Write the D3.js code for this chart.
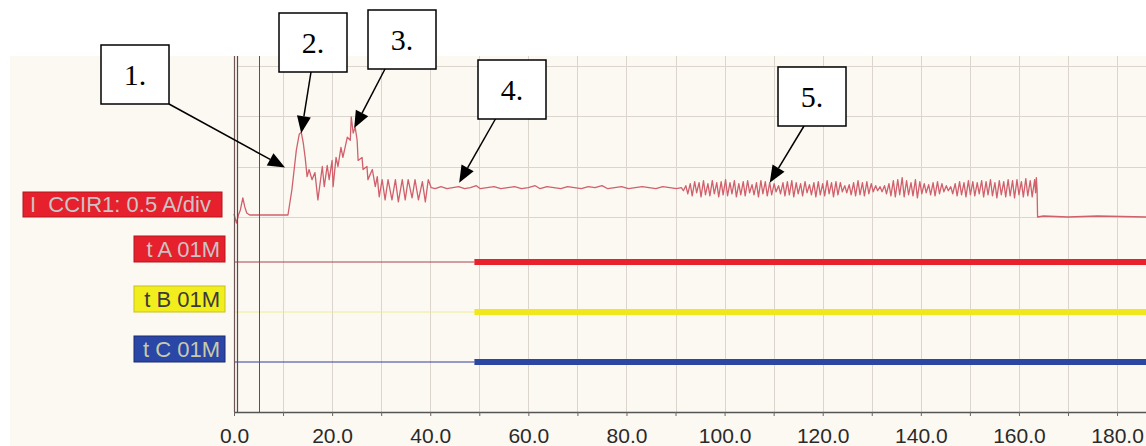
<!DOCTYPE html>
<html>
<head>
<meta charset="utf-8">
<script src="https://cdn.jsdelivr.net/npm/d3@7"></script>
<style>
html, body { margin: 0; padding: 0; background: #ffffff; }
svg { display: block; }
</style>
</head>
<body>
<div id="chart"></div>
<script>
// time axis (cycles) and amplitude grid (A)
var timeTicks = [0, 10, 20, 30, 40, 50, 60, 70, 80, 90, 100, 110, 120, 130, 140, 150, 160, 170, 180];
var ampGrid = [0, 0.5, 1.0, 1.5];
var tEnd = 185.9;
var cursorTime = 5.0;

var analogLabel = "I  CCIR1: 0.5 A/div";

// recorded current, [time, A]
var inrush = [
    [0.0, 0.03], [0.5, -0.06], [0.9, 0.02], [1.3, 0.07], [1.8, 0.19], [2.2, 0.10], [2.6, 0.04], [3.2, 0.02],
    [6.0, 0.02], [9.0, 0.02], [11.0, 0.02],
    [11.8, 0.27], [12.7, 0.66], [13.3, 0.82], [13.7, 0.84], [14.1, 0.74], [14.5, 0.59], [14.9, 0.40],
    [15.3, 0.47], [15.9, 0.37], [16.5, 0.44], [17.1, 0.17], [18.0, 0.50], [18.4, 0.30], [19.0, 0.51],
    [19.4, 0.37], [20.0, 0.56], [20.2, 0.30], [20.8, 0.59], [21.2, 0.50], [21.8, 0.69], [22.2, 0.59],
    [23.1, 0.79], [23.7, 0.76], [23.9, 0.99], [24.3, 0.83], [24.7, 0.89], [25.1, 0.76], [25.3, 0.56],
    [26.1, 0.59], [26.3, 0.47], [27.1, 0.50], [27.3, 0.37], [28.2, 0.47], [28.8, 0.30], [29.2, 0.40],
    [29.6, 0.20], [30.2, 0.37], [30.8, 0.17], [31.4, 0.37], [32.2, 0.17], [32.9, 0.37], [33.5, 0.15],
    [34.3, 0.37], [34.9, 0.17], [35.5, 0.37], [36.3, 0.19], [36.9, 0.37], [37.6, 0.17], [38.4, 0.35],
    [39.0, 0.15], [39.6, 0.37], [40.2, 0.29]
];
var steady = [
    [41.0, 0.28], [42.2, 0.30], [43.4, 0.28], [44.6, 0.29], [45.8, 0.30], [47.0, 0.28], [48.2, 0.29],
    [49.4, 0.31], [50.2, 0.28], [51.6, 0.29], [53.0, 0.30], [54.4, 0.28], [55.8, 0.29], [57.2, 0.30],
    [58.6, 0.28], [60.0, 0.29], [61.4, 0.31], [62.4, 0.28], [63.8, 0.30], [65.2, 0.29], [66.6, 0.28],
    [68.0, 0.30], [69.4, 0.29], [70.8, 0.28], [72.2, 0.30], [73.6, 0.29], [75.0, 0.31], [76.2, 0.28],
    [77.6, 0.29], [79.0, 0.30], [80.4, 0.28], [81.8, 0.29], [83.2, 0.30], [84.6, 0.29], [86.0, 0.28],
    [87.4, 0.30], [88.8, 0.29], [90.2, 0.28], [91.2, 0.29]
];
var oscillation = [
    [91.6, 0.26], [92.1, 0.31], [92.5, 0.23], [93.0, 0.33], [93.4, 0.21], [93.9, 0.35], [94.3, 0.24], [94.8, 0.34],
    [95.2, 0.20], [95.7, 0.36], [96.1, 0.22], [96.6, 0.33], [97.0, 0.21], [97.5, 0.36], [97.9, 0.23], [98.4, 0.34],
    [98.8, 0.20], [99.3, 0.35], [99.7, 0.22], [100.2, 0.37], [100.6, 0.21], [101.1, 0.34], [101.5, 0.23], [102.0, 0.36],
    [102.4, 0.20], [102.9, 0.33], [103.3, 0.22], [103.8, 0.35], [104.2, 0.21], [104.7, 0.36], [105.1, 0.24], [105.6, 0.32],
    [106.0, 0.22], [106.5, 0.34], [106.9, 0.20], [107.4, 0.36], [107.8, 0.23], [108.3, 0.35], [108.7, 0.21], [109.2, 0.34],
    [109.6, 0.22], [110.1, 0.33], [110.5, 0.25], [111.0, 0.31], [111.4, 0.23], [111.9, 0.34], [112.3, 0.21], [112.8, 0.35],
    [113.2, 0.22], [113.7, 0.36], [114.1, 0.20], [114.6, 0.34], [115.0, 0.23], [115.5, 0.33], [115.9, 0.21], [116.4, 0.35],
    [116.8, 0.24], [117.3, 0.32], [117.7, 0.22], [118.2, 0.34], [118.6, 0.20], [119.1, 0.35], [119.5, 0.22], [120.0, 0.33],
    [120.4, 0.21], [120.9, 0.36], [121.3, 0.23], [121.8, 0.34], [122.2, 0.20], [122.7, 0.35], [123.1, 0.22], [123.6, 0.34],
    [124.0, 0.25], [124.5, 0.31], [124.9, 0.24], [125.4, 0.32], [125.8, 0.22], [126.3, 0.34], [126.7, 0.21], [127.2, 0.36],
    [127.6, 0.22], [128.1, 0.34], [128.5, 0.21], [129.0, 0.35], [129.4, 0.23], [129.9, 0.33], [130.3, 0.25], [130.8, 0.31],
    [131.2, 0.26], [131.7, 0.30], [132.1, 0.25], [132.6, 0.31], [133.0, 0.23], [133.5, 0.33], [133.9, 0.21], [134.4, 0.36],
    [134.8, 0.20], [135.3, 0.37], [135.7, 0.22], [136.2, 0.39], [136.6, 0.20], [137.1, 0.36], [137.5, 0.22], [138.0, 0.34],
    [138.4, 0.21], [138.9, 0.37], [139.3, 0.19], [139.8, 0.35], [140.2, 0.23], [140.7, 0.33], [141.1, 0.24], [141.6, 0.32],
    [142.0, 0.22], [142.5, 0.34], [142.9, 0.21], [143.4, 0.35], [143.8, 0.23], [144.3, 0.33], [144.7, 0.25], [145.2, 0.31],
    [145.6, 0.26], [146.1, 0.30], [146.5, 0.23], [147.0, 0.33], [147.4, 0.21], [147.9, 0.35], [148.3, 0.22], [148.8, 0.34],
    [149.2, 0.20], [149.7, 0.36], [150.1, 0.22], [150.6, 0.35], [151.0, 0.21], [151.5, 0.34], [151.9, 0.23], [152.4, 0.36],
    [152.8, 0.20], [153.3, 0.35], [153.7, 0.22], [154.2, 0.37], [154.6, 0.21], [155.1, 0.34], [155.5, 0.19], [156.0, 0.36],
    [156.4, 0.22], [156.9, 0.35], [157.3, 0.20], [157.8, 0.37], [158.2, 0.21], [158.7, 0.36], [159.1, 0.19], [159.6, 0.37],
    [160.0, 0.22], [160.5, 0.35], [160.9, 0.20], [161.4, 0.38], [161.8, 0.21], [162.3, 0.36], [162.7, 0.20], [163.2, 0.37],
    [163.4, 0.24], [163.55, 0.39], [163.7, 0.27]
];
var afterTrip = [[163.8, 0.00], [165.0, 0.01], [170.0, 0.00], [176.0, 0.01], [185.9, 0.00]];

// binary trip signals
var digitalChannels = ["t A 01M", "t B 01M", "t C 01M"];
var digitalPickup = [49.0, 49.0, 49.0];

// numbered call-outs and the point each one points at
var annotationLabels = ["1.", "2.", "3.", "4.", "5."];
var annotationTargets = [[10.4, 0.49], [13.7, 0.83], [24.5, 0.88], [45.9, 0.34], [109.2, 0.34]];

// ---- layout / styles ----
var width = 1146, height = 446;
var plotTop = 56, axisY = 412;
var boxPos = [[101, 45], [279, 13], [368, 10], [478, 60], [778, 67]];
var boxAnchor = [[68, 59], [32, 59], [17, 59], [18, 58], [26, 59]];
var boxW = 68, boxH = 59;

var chanFill = ["#e6202c", "#f2ee1e", "#2a46a6"];
var chanStroke = ["#b01820", "#c8c020", "#1a2a70"];
var chanText = ["#cbc4c4", "#3a3a3a", "#cacaa8"];
var chanThin = ["#a84050", "#eeee90", "#303c98"];
var chanThick = ["#e8222c", "#f0e81c", "#2c46a4"];

var svg = d3.select("#chart").append("svg")
    .attr("width", width)
    .attr("height", height);

svg.append("rect")
    .attr("x", 10).attr("y", plotTop)
    .attr("width", width - 10).attr("height", height - plotTop)
    .attr("fill", "#fcf8f2");

var x = d3.scaleLinear().domain([0, tEnd]).range([234, width]);
var y = d3.scaleLinear().domain([0, 1.5]).range([217, 65.5]);
var rowY = d3.scalePoint().domain(digitalChannels).range([262, 362]);

// grid
svg.append("g").selectAll("line")
    .data(timeTicks.filter(function (d) { return d > 0; }))
    .enter().append("line")
    .attr("x1", function (d) { return Math.round(x(d)) + 0.5; })
    .attr("x2", function (d) { return Math.round(x(d)) + 0.5; })
    .attr("y1", plotTop).attr("y2", axisY)
    .attr("stroke", "#dcd5ce").attr("stroke-width", 1);

svg.append("g").selectAll("line")
    .data(ampGrid)
    .enter().append("line")
    .attr("x1", x(0) + 3).attr("x2", width)
    .attr("y1", function (d) { return Math.round(y(d)) + 0.5; })
    .attr("y2", function (d) { return Math.round(y(d)) + 0.5; })
    .attr("stroke", "#dcd5ce").attr("stroke-width", 1);

// digital channels
digitalChannels.forEach(function (name, i) {
    var yy = rowY(name);
    svg.append("line")
        .attr("x1", x(0)).attr("x2", x(digitalPickup[i]))
        .attr("y1", yy).attr("y2", yy)
        .attr("stroke", chanThin[i]).attr("stroke-width", 1.2);
    svg.append("line")
        .attr("x1", x(digitalPickup[i])).attr("x2", x(tEnd))
        .attr("y1", yy).attr("y2", yy)
        .attr("stroke", chanThick[i]).attr("stroke-width", 6);
});

// analog trace
var trace = inrush.concat(steady, oscillation, afterTrip);
var line = d3.line()
    .x(function (d) { return x(d[0]); })
    .y(function (d) { return y(d[1]); });

svg.append("path")
    .datum(trace)
    .attr("d", line)
    .attr("fill", "none")
    .attr("stroke", "#d0606c")
    .attr("stroke-width", 1.3)
    .attr("stroke-linejoin", "round");

// left border + cursor
svg.append("line")
    .attr("x1", x(0) + 0.5).attr("x2", x(0) + 0.5)
    .attr("y1", plotTop).attr("y2", axisY)
    .attr("stroke", "#6e5656").attr("stroke-width", 1.2);
svg.append("line")
    .attr("x1", x(0) + 3.5).attr("x2", x(0) + 3.5)
    .attr("y1", plotTop).attr("y2", axisY)
    .attr("stroke", "#5a4a4a").attr("stroke-width", 1.2);
svg.append("line")
    .attr("x1", Math.round(x(cursorTime)) + 0.5).attr("x2", Math.round(x(cursorTime)) + 0.5)
    .attr("y1", plotTop).attr("y2", axisY)
    .attr("stroke", "#555555").attr("stroke-width", 1);

// time axis
var axis = d3.axisBottom(x)
    .tickValues(timeTicks)
    .tickSize(4)
    .tickSizeOuter(0)
    .tickPadding(12)
    .tickFormat(function (d) { return d % 20 == 0 ? d3.format(".1f")(d) : ""; });

var gAxis = svg.append("g")
    .attr("transform", "translate(0," + axisY + ")")
    .call(axis);
gAxis.select(".domain").attr("stroke", "#555555").attr("stroke-width", 1.6);
gAxis.selectAll(".tick line").attr("stroke", "#666666");
gAxis.selectAll(".tick text")
    .attr("fill", "#2a2a2a")
    .style("font-family", "'Liberation Sans', Arial, sans-serif")
    .style("font-size", "21px");

// channel labels
var labelFont = "'Liberation Sans', Arial, sans-serif";
svg.append("rect")
    .attr("x", 23).attr("y", 192).attr("width", 199).attr("height", 25)
    .attr("fill", chanFill[0]).attr("stroke", chanStroke[0]).attr("stroke-width", 1);
svg.append("text")
    .attr("x", 30).attr("y", 212)
    .attr("fill", chanText[0])
    .style("font-family", labelFont).style("font-size", "22px")
    .style("white-space", "pre")
    .text(analogLabel);

digitalChannels.forEach(function (name, i) {
    var yy = rowY(name);
    svg.append("rect")
        .attr("x", 134).attr("y", yy - 26).attr("width", 91).attr("height", 26)
        .attr("fill", chanFill[i]).attr("stroke", chanStroke[i]).attr("stroke-width", 1);
    svg.append("text")
        .attr("x", 220).attr("y", yy - 5)
        .attr("text-anchor", "end")
        .attr("fill", chanText[i])
        .style("font-family", labelFont).style("font-size", "22px")
        .text(name);
});

// call-outs
annotationLabels.forEach(function (lab, i) {
    var bx = boxPos[i][0], by = boxPos[i][1];
    var sx = bx + boxAnchor[i][0], sy = by + boxAnchor[i][1];
    var tx = x(annotationTargets[i][0]), ty = y(annotationTargets[i][1]);
    var ang = Math.atan2(ty - sy, tx - sx);
    var hl = 17, hw = 7;
    var bxp = tx - hl * Math.cos(ang), byp = ty - hl * Math.sin(ang);

    svg.append("line")
        .attr("x1", sx).attr("y1", sy)
        .attr("x2", bxp).attr("y2", byp)
        .attr("stroke", "#000").attr("stroke-width", 1.5);
    svg.append("polygon")
        .attr("points", [
            [tx, ty],
            [bxp + hw * Math.sin(ang), byp - hw * Math.cos(ang)],
            [bxp - hw * Math.sin(ang), byp + hw * Math.cos(ang)]
        ].map(function (p) { return p.join(","); }).join(" "))
        .attr("fill", "#000");

    svg.append("rect")
        .attr("x", bx).attr("y", by).attr("width", boxW).attr("height", boxH)
        .attr("fill", "#ffffff").attr("stroke", "#000").attr("stroke-width", 1.5);
    svg.append("text")
        .attr("x", bx + boxW / 2).attr("y", by + boxH / 2 + 10)
        .attr("text-anchor", "middle")
        .style("font-family", "'Liberation Serif', 'Times New Roman', serif")
        .style("font-size", "30px")
        .text(lab);
});
</script>
</body>
</html>
